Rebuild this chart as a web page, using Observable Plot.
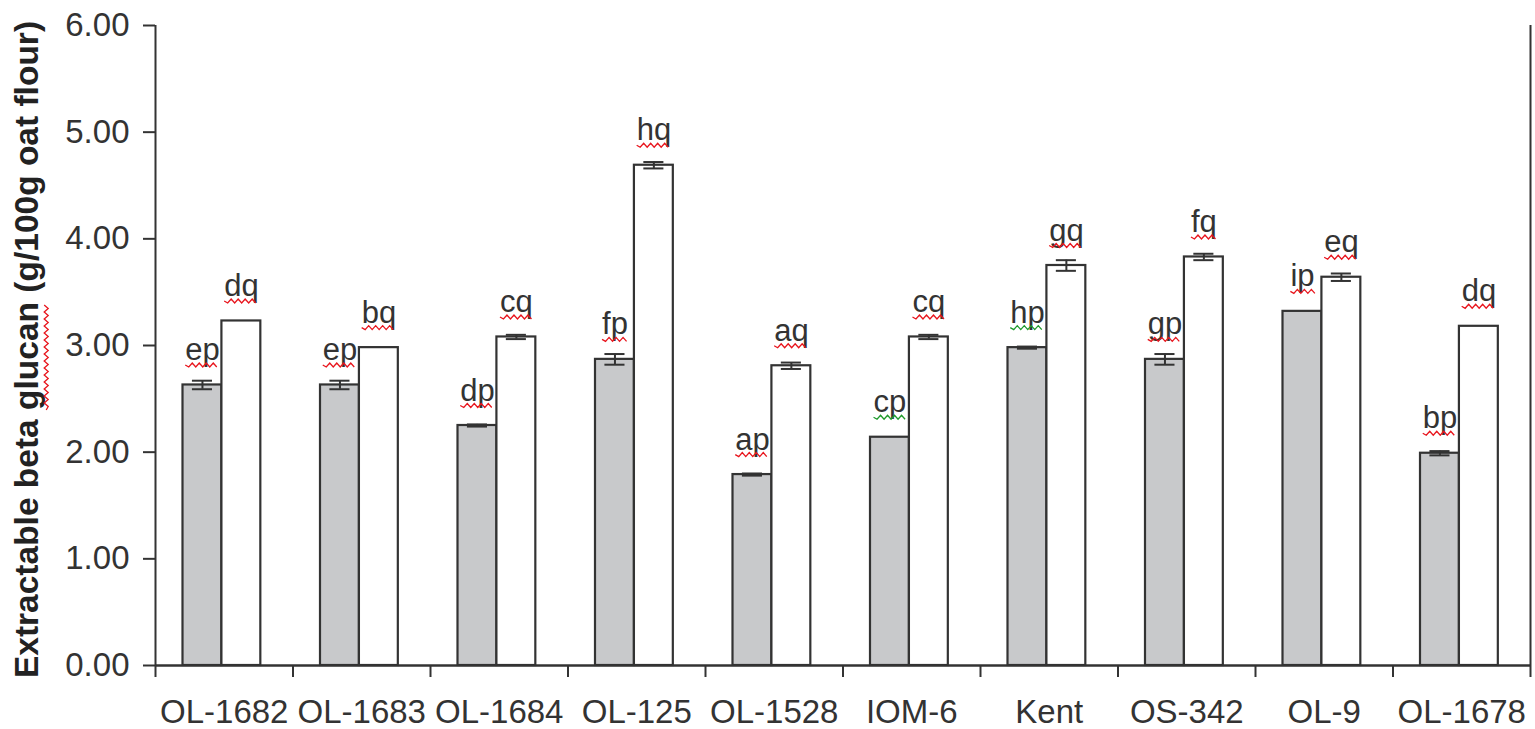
<!DOCTYPE html>
<html>
<head>
<meta charset="utf-8">
<script src="https://cdn.jsdelivr.net/npm/d3@7"></script>
<script src="https://cdn.jsdelivr.net/npm/@observablehq/plot@0.6"></script>
<style>
  html, body { margin: 0; padding: 0; background: #fff; }
  #chart { width: 1535px; height: 729px; }
</style>
</head>
<body>
<div id="chart"></div>
<script>
// ---- data ----
const categories = ["OL-1682", "OL-1683", "OL-1684", "OL-125", "OL-1528", "IOM-6", "Kent", "OS-342", "OL-9", "OL-1678"];
const greyValues  = [2.63, 2.63, 2.25, 2.87, 1.79, 2.14, 2.98, 2.87, 3.32, 1.99];
const greyErrors  = [0.04, 0.04, 0.01, 0.05, 0.01, 0.00, 0.01, 0.05, 0.00, 0.02];
const whiteValues = [3.23, 2.98, 3.08, 4.69, 2.81, 3.08, 3.75, 3.83, 3.64, 3.18];
const whiteErrors = [0.00, 0.00, 0.02, 0.03, 0.03, 0.02, 0.05, 0.03, 0.035, 0.00];
const greyLetters  = ["ep", "ep", "dp", "fp", "ap", "cp", "hp", "gp", "ip", "bp"];
const whiteLetters = ["dq", "bq", "cq", "hq", "aq", "cq", "gq", "fq", "eq", "dq"];
const greenMarked  = ["IOM-6", "Kent"]; // grey-series letters flagged with a green squiggle
const yTicks = [0, 1, 2, 3, 4, 5, 6];
const yLabel = "Extractable beta glucan (g/100g oat flour)";
const yLabelMarkedWord = "glucan";

// ---- layout constants (in category units) ----
const barStart = 0.2, barMid = 0.483, barEnd = 0.766, capHalf = 0.073;
const greyC = (barStart + barMid) / 2, whiteC = (barMid + barEnd) / 2;

const rows = categories.map((cat, i) => ({
  i, cat,
  grey: greyValues[i], ge: greyErrors[i], gl: greyLetters[i],
  white: whiteValues[i], we: whiteErrors[i], wl: whiteLetters[i],
  green: greenMarked.includes(cat)
}));

const ink = "#333";
const plot = Plot.plot({
  width: 1535,
  height: 729,
  marginLeft: 155,
  marginRight: 5,
  marginTop: 25,
  marginBottom: 64,
  x: {domain: [0, categories.length]},
  y: {domain: [0, 6]},
  style: {fontFamily: "'Liberation Sans', Arial, Helvetica, sans-serif", fontSize: "33px", color: ink, background: "#fff"},
  marks: [
    // letters above bars (drawn under the bars)
    Plot.text(rows, {filter: d => !d.green, x: d => d.i + greyC, y: "grey", text: "gl", dy: -25, lineAnchor: "bottom", fontSize: 31, fill: ink, ariaDescription: "sq-red"}),
    Plot.text(rows, {filter: d => d.green, x: d => d.i + greyC, y: "grey", text: "gl", dy: -25, lineAnchor: "bottom", fontSize: 31, fill: ink, ariaDescription: "sq-green"}),
    Plot.text(rows, {x: d => d.i + whiteC, y: "white", text: "wl", dy: -25, lineAnchor: "bottom", fontSize: 31, fill: ink, ariaDescription: "sq-red"}),
    // bars
    Plot.rectY(rows, {x1: d => d.i + barStart, x2: d => d.i + barMid, y1: 0, y2: "grey", fill: "#c8c9cb", stroke: ink, strokeWidth: 2.2}),
    Plot.rectY(rows, {x1: d => d.i + barMid, x2: d => d.i + barEnd, y1: 0, y2: "white", fill: "#fff", stroke: ink, strokeWidth: 2.2}),
    // error bars
    Plot.ruleX(rows, {filter: d => d.ge > 0, x: d => d.i + greyC, y1: d => d.grey - d.ge, y2: d => d.grey + d.ge, stroke: ink, strokeWidth: 2}),
    Plot.ruleY(rows, {filter: d => d.ge > 0, y: d => d.grey + d.ge, x1: d => d.i + greyC - capHalf, x2: d => d.i + greyC + capHalf, stroke: ink, strokeWidth: 2}),
    Plot.ruleY(rows, {filter: d => d.ge > 0, y: d => d.grey - d.ge, x1: d => d.i + greyC - capHalf, x2: d => d.i + greyC + capHalf, stroke: ink, strokeWidth: 2}),
    Plot.ruleX(rows, {filter: d => d.we > 0, x: d => d.i + whiteC, y1: d => d.white - d.we, y2: d => d.white + d.we, stroke: ink, strokeWidth: 2}),
    Plot.ruleY(rows, {filter: d => d.we > 0, y: d => d.white + d.we, x1: d => d.i + whiteC - capHalf, x2: d => d.i + whiteC + capHalf, stroke: ink, strokeWidth: 2}),
    Plot.ruleY(rows, {filter: d => d.we > 0, y: d => d.white - d.we, x1: d => d.i + whiteC - capHalf, x2: d => d.i + whiteC + capHalf, stroke: ink, strokeWidth: 2}),
    // axes
    Plot.ruleX([0, categories.length], {stroke: ink, strokeWidth: 2}),
    Plot.ruleY([0], {stroke: ink, strokeWidth: 2.5}),
    Plot.axisY({ticks: yTicks, tickFormat: d => d.toFixed(2), tickSize: 12, tickPadding: 14, fontSize: 33, stroke: ink, strokeWidth: 2, label: null}),
    Plot.axisX({ticks: d3.range(0, categories.length + 1), tickFormat: () => "", tickSize: 12, stroke: ink, strokeWidth: 2, label: null}),
    Plot.axisX({ticks: categories.map((c, i) => i + 0.5), tickFormat: d => categories[Math.floor(d)], tickSize: 0, tickPadding: 34, fontSize: 33, label: null}),
    Plot.text([yLabel], {text: d => d, frameAnchor: "left", rotate: -90, dx: -128, dy: 4, textAnchor: "middle", lineAnchor: "middle", fontWeight: "bold", fontSize: 33.5, fill: "#222", ariaDescription: "y-label"})
  ]
});
document.getElementById("chart").appendChild(plot);

// spell-check style squiggles, placed from the rendered text extents
const ns = "http://www.w3.org/2000/svg";
function zigzag(x0, x1, y, amp, half) {
  let d = `M${x0.toFixed(1)},${y.toFixed(1)}`;
  let up = true;
  for (let x = x0 + half; x <= x1 + 0.5; x += half) {
    d += `L${x.toFixed(1)},${(y + (up ? amp : -amp)).toFixed(1)}`;
    up = !up;
  }
  return d;
}
function addSquiggle(textEl, x0, x1, y, color) {
  const p = document.createElementNS(ns, "path");
  p.setAttribute("d", zigzag(x0, x1, y, 2, 3.5));
  p.setAttribute("fill", "none");
  p.setAttribute("stroke", color);
  p.setAttribute("stroke-width", "1.3");
  const tr = textEl.getAttribute("transform");
  if (tr) p.setAttribute("transform", tr);
  textEl.parentNode.appendChild(p);
}
function markGroup(desc) {
  return Array.from(plot.querySelectorAll("g")).filter(g => g.getAttribute("aria-description") === desc);
}
[["sq-red", "#e8141c"], ["sq-green", "#1d9a2a"]].forEach(([desc, color]) => {
  markGroup(desc).forEach(g => {
    g.querySelectorAll("text").forEach(t => {
      const b = t.getBBox();
      addSquiggle(t, b.x, b.x + b.width, b.y + b.height - 2, color);
    });
  });
});
markGroup("y-label").forEach(g => {
  const yl = g.querySelector("text");
  if (!yl) return;
  const k = yLabel.indexOf(yLabelMarkedWord);
  const s = yl.getStartPositionOfChar(k);
  const e = yl.getEndPositionOfChar(k + yLabelMarkedWord.length - 1);
  addSquiggle(yl, s.x, e.x, s.y + 8, "#e8141c");
});
</script>
</body>
</html>
